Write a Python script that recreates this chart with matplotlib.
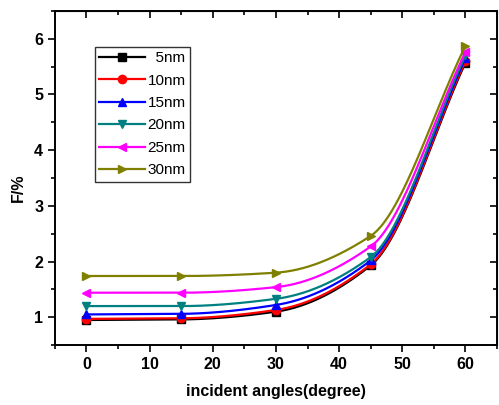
import numpy as np
import matplotlib
matplotlib.use("Agg")
import matplotlib.pyplot as plt

plt.rcParams["font.family"] = ["Liberation Sans", "DejaVu Sans"]

# -- data ---------------------------------------------------------------
angles = [0, 15, 30, 45, 60]
labels = ["  5nm", "10nm", "15nm", "20nm", "25nm", "30nm"]
f_5nm = [0.95, 0.96, 1.10, 1.93, 5.57]
f_10nm = [0.97, 0.98, 1.13, 1.95, 5.60]
f_15nm = [1.05, 1.06, 1.22, 2.02, 5.65]
f_20nm = [1.20, 1.20, 1.33, 2.08, 5.70]
f_25nm = [1.44, 1.44, 1.54, 2.27, 5.76]
f_30nm = [1.74, 1.74, 1.80, 2.46, 5.87]

series = [f_5nm, f_10nm, f_15nm, f_20nm, f_25nm, f_30nm]
colors = ["black", "red", "blue", "#008080", "magenta", "#808000"]
markers = ["s", "o", "^", "v", "<", ">"]


def pchip(x, y, xs):
    # shape-preserving cubic through the points (smooth line like Origin)
    x = np.asarray(x, float)
    y = np.asarray(y, float)
    h = np.diff(x)
    d = np.diff(y) / h
    m = np.zeros_like(y)
    for k in range(1, len(x) - 1):
        if d[k - 1] * d[k] > 0:
            w1 = 2 * h[k] + h[k - 1]
            w2 = h[k] + 2 * h[k - 1]
            m[k] = (w1 + w2) / (w1 / d[k - 1] + w2 / d[k])
    m[0] = d[0]
    m[-1] = d[-1]
    idx = np.clip(np.searchsorted(x, xs) - 1, 0, len(x) - 2)
    t = (xs - x[idx]) / h[idx]
    h00 = 2 * t**3 - 3 * t**2 + 1
    h10 = t**3 - 2 * t**2 + t
    h01 = -2 * t**3 + 3 * t**2
    h11 = t**3 - t**2
    return (h00 * y[idx] + h10 * h[idx] * m[idx]
            + h01 * y[idx + 1] + h11 * h[idx] * m[idx + 1])


fig = plt.figure(figsize=(4.99, 4.05), dpi=100)
ax = fig.add_axes([0.110, 0.148, 0.886, 0.825])

xs = np.linspace(angles[0], angles[-1], 400)
for vals, c, mk, lab in zip(series, colors, markers, labels):
    ax.plot(xs, pchip(angles, vals, xs), color=c, lw=1.6)
    ax.plot(angles, vals, color=c, marker=mk, ms=6, lw=0)
    ax.plot([], [], color=c, marker=mk, ms=6, lw=1.6, label=lab)

ax.set_xlim(-5, 65)
ax.set_ylim(0.5, 6.5)
ax.set_xticks(range(0, 61, 10))
ax.set_xticks(range(-5, 66, 5), minor=True)
ax.set_yticks(range(1, 7))
ax.set_yticks(np.arange(0.5, 6.6, 0.5), minor=True)
ax.tick_params(which="both", direction="out", width=1.2, labelsize=11.5)
ax.tick_params(which="major", length=5)
ax.tick_params(which="minor", length=3)

# inward ticks on the top and right frame, Origin style
sx = ax.secondary_xaxis("top")
sx.set_xticks(range(0, 61, 10))
sx.set_xticks(range(-5, 66, 5), minor=True)
sx.tick_params(which="both", direction="in", labeltop=False, width=1.2)
sx.tick_params(which="major", length=5)
sx.tick_params(which="minor", length=3)
sy = ax.secondary_yaxis("right")
sy.set_yticks(range(1, 7))
sy.set_yticks(np.arange(0.5, 6.6, 0.5), minor=True)
sy.tick_params(which="both", direction="in", labelright=False, width=1.2)
sy.tick_params(which="major", length=5)
sy.tick_params(which="minor", length=3)

for lbl in ax.get_xticklabels() + ax.get_yticklabels():
    lbl.set_fontweight("bold")
for sp in ax.spines.values():
    sp.set_linewidth(1.4)

ax.set_xlabel("incident angles(degree)", fontsize=11.5, fontweight="bold")
ax.set_ylabel("F/%", fontsize=11.5, fontweight="bold")
ax.xaxis.set_label_coords(0.5, -0.118)
ax.yaxis.set_label_coords(-0.066, 0.47)

leg = ax.legend(loc="upper left", bbox_to_anchor=(0.09, 0.893), borderaxespad=0,
                fontsize=11, frameon=True, fancybox=False, edgecolor="black",
                handlelength=3.0, labelspacing=0.55, borderpad=0.3,
                handletextpad=0.15)
leg.get_frame().set_linewidth(1.0)

fig.savefig("out.png", dpi=100)
